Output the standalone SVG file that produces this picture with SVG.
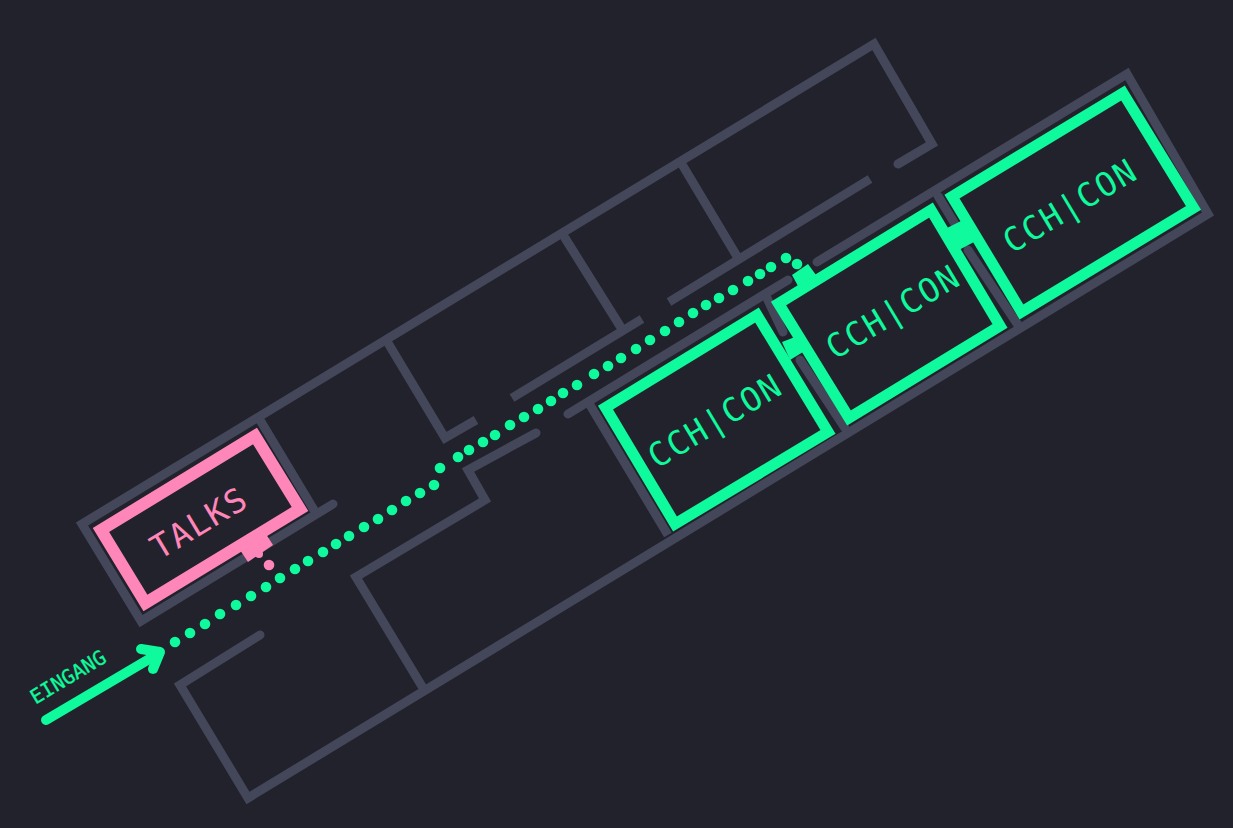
<svg xmlns="http://www.w3.org/2000/svg" width="1233" height="828" viewBox="0 0 1233 828">
<style>
.w{fill:none;stroke:#44475a;stroke-width:9;stroke-linecap:round;stroke-linejoin:miter}
.b{stroke-linecap:butt}
.g{fill:none;stroke:#0efa9c;stroke-width:11;stroke-linejoin:miter}
.p{fill:none;stroke:#ff86b8;stroke-width:12;stroke-linejoin:miter}
.gd{fill:#0efa9c}
.pd{fill:#ff86b8}
text{font-family:"DejaVu Sans Mono","Liberation Mono",monospace;text-anchor:middle;dominant-baseline:central}
.lg{fill:#0efa9c;font-size:33px;letter-spacing:1.5px}
.lp{fill:#ff86b8;font-size:33px;letter-spacing:1.5px}
.e{fill:#0efa9c;font-size:20px;stroke:#0efa9c;stroke-width:.3}
</style>
<rect width="1233" height="828" fill="#21222c"/>
<g id="connectors">
<g id="walls">
<path class="w" d="M333 504L141 621L82 524L874 44L932 144L898 164"/>
<path class="w" d="M260 420L314 510"/>
<path class="w b" d="M388 343L445 438L476 420"/>
<path class="w" d="M565 238L620 326"/>
<path class="w b" d="M512 398L642 319"/>
<path class="w" d="M683 166L738 258"/>
<path class="w b" d="M669 302L870 179"/>
<path class="w" d="M260 635L180 685L248 798L1208 214L1127 74L817 262"/>
<path class="w" d="M423 688L356 577L485 500L468 470L536 433"/>
<path class="w" d="M568 414L788 280"/>
<path class="w b" d="M590 405L668 535"/>
<path class="w" d="M767 298L783 332"/>
<path class="w" d="M800 360L845 428"/>
<path class="w" d="M938 196L955 224"/>
<path class="w" d="M968 250L1018 325"/>
</g>
<g id="route" class="gd">
<circle cx="175" cy="642" r="5.3"/><circle cx="190" cy="633" r="5.3"/><circle cx="205" cy="624" r="5.3"/><circle cx="220" cy="614" r="5.3"/><circle cx="236" cy="605" r="5.3"/><circle cx="251" cy="596" r="5.3"/><circle cx="266" cy="587" r="5.3"/><circle cx="280" cy="578" r="5.3"/><circle cx="295" cy="569" r="5.3"/><circle cx="308" cy="561" r="5.3"/><circle cx="323" cy="552" r="5.3"/><circle cx="336" cy="544" r="5.3"/><circle cx="349" cy="536" r="5.3"/><circle cx="364" cy="527" r="5.3"/><circle cx="378" cy="519" r="5.3"/><circle cx="392" cy="510" r="5.3"/><circle cx="406" cy="501" r="5.3"/><circle cx="420" cy="493" r="5.3"/><circle cx="434" cy="485" r="5.3"/><circle cx="440" cy="468" r="5.3"/><circle cx="458" cy="457" r="5.3"/><circle cx="469" cy="450" r="5.3"/><circle cx="483" cy="442" r="5.3"/><circle cx="495" cy="435" r="5.3"/><circle cx="510" cy="425" r="5.3"/><circle cx="524" cy="417" r="5.3"/><circle cx="538" cy="409" r="5.3"/><circle cx="551" cy="401" r="5.3"/><circle cx="563" cy="393" r="5.3"/><circle cx="577" cy="385" r="5.3"/><circle cx="594" cy="374" r="5.3"/><circle cx="608" cy="366" r="5.3"/><circle cx="621" cy="358" r="5.3"/><circle cx="636" cy="349" r="5.3"/><circle cx="650" cy="340" r="5.3"/><circle cx="665" cy="331" r="5.3"/><circle cx="679" cy="322" r="5.3"/><circle cx="693" cy="313" r="5.3"/><circle cx="706" cy="305" r="5.3"/><circle cx="719" cy="298" r="5.3"/><circle cx="733" cy="290" r="5.3"/><circle cx="748" cy="281" r="5.3"/><circle cx="760" cy="274" r="5.3"/><circle cx="771" cy="267" r="5.3"/><circle cx="786" cy="258" r="5.3"/><circle cx="797" cy="264" r="5.3"/>
</g>
<g id="arrow" fill="none" stroke="#0efa9c" stroke-width="10" stroke-linecap="round" stroke-linejoin="round">
<path d="M46 720L156 655"/><path d="M141 649L160 652L153 669"/>
</g>
</g>
<g id="talks">
<path class="p" d="M255 436L300 509L145.500 603L101 530Z"/>
<path class="pd" d="M238 547L264 531L273 545L248 562Z"/>
<circle class="pd" cx="259" cy="554" r="4"/>
<circle class="pd" cx="269" cy="565" r="5.300"/>
<text class="lp" transform="translate(199 523) rotate(-31)">TALKS</text>
</g>
<g id="cch1">
<path class="g" d="M757 315L828 432L675 524L605.500 407.500Z"/>
<text class="lg" transform="translate(715 421) rotate(-31)">CCH|CON</text>
</g>
<g id="cch2">
<path class="g" d="M931 210L1000 326L849 418L778.500 303.500Z"/>
<path class="gd" d="M782 342L795 337L803 352L790 360Z"/>
<path class="gd" d="M792 275L808 264L816 275L798 286Z"/>
<text class="lg" transform="translate(893 312) rotate(-31)">CCH|CON</text>
</g>
<g id="cch3">
<path class="g" d="M1123 93L1193.500 208L1021.500 312L952 196.500Z"/>
<path class="gd" d="M947 228L963 220L974 242L957 251Z"/>
<text class="lg" transform="translate(1070 206) rotate(-31)">CCH|CON</text>
</g>
<g id="eingang">
<text class="e" transform="translate(68 677) rotate(-31)">EINGANG</text>
</g>
</svg>
